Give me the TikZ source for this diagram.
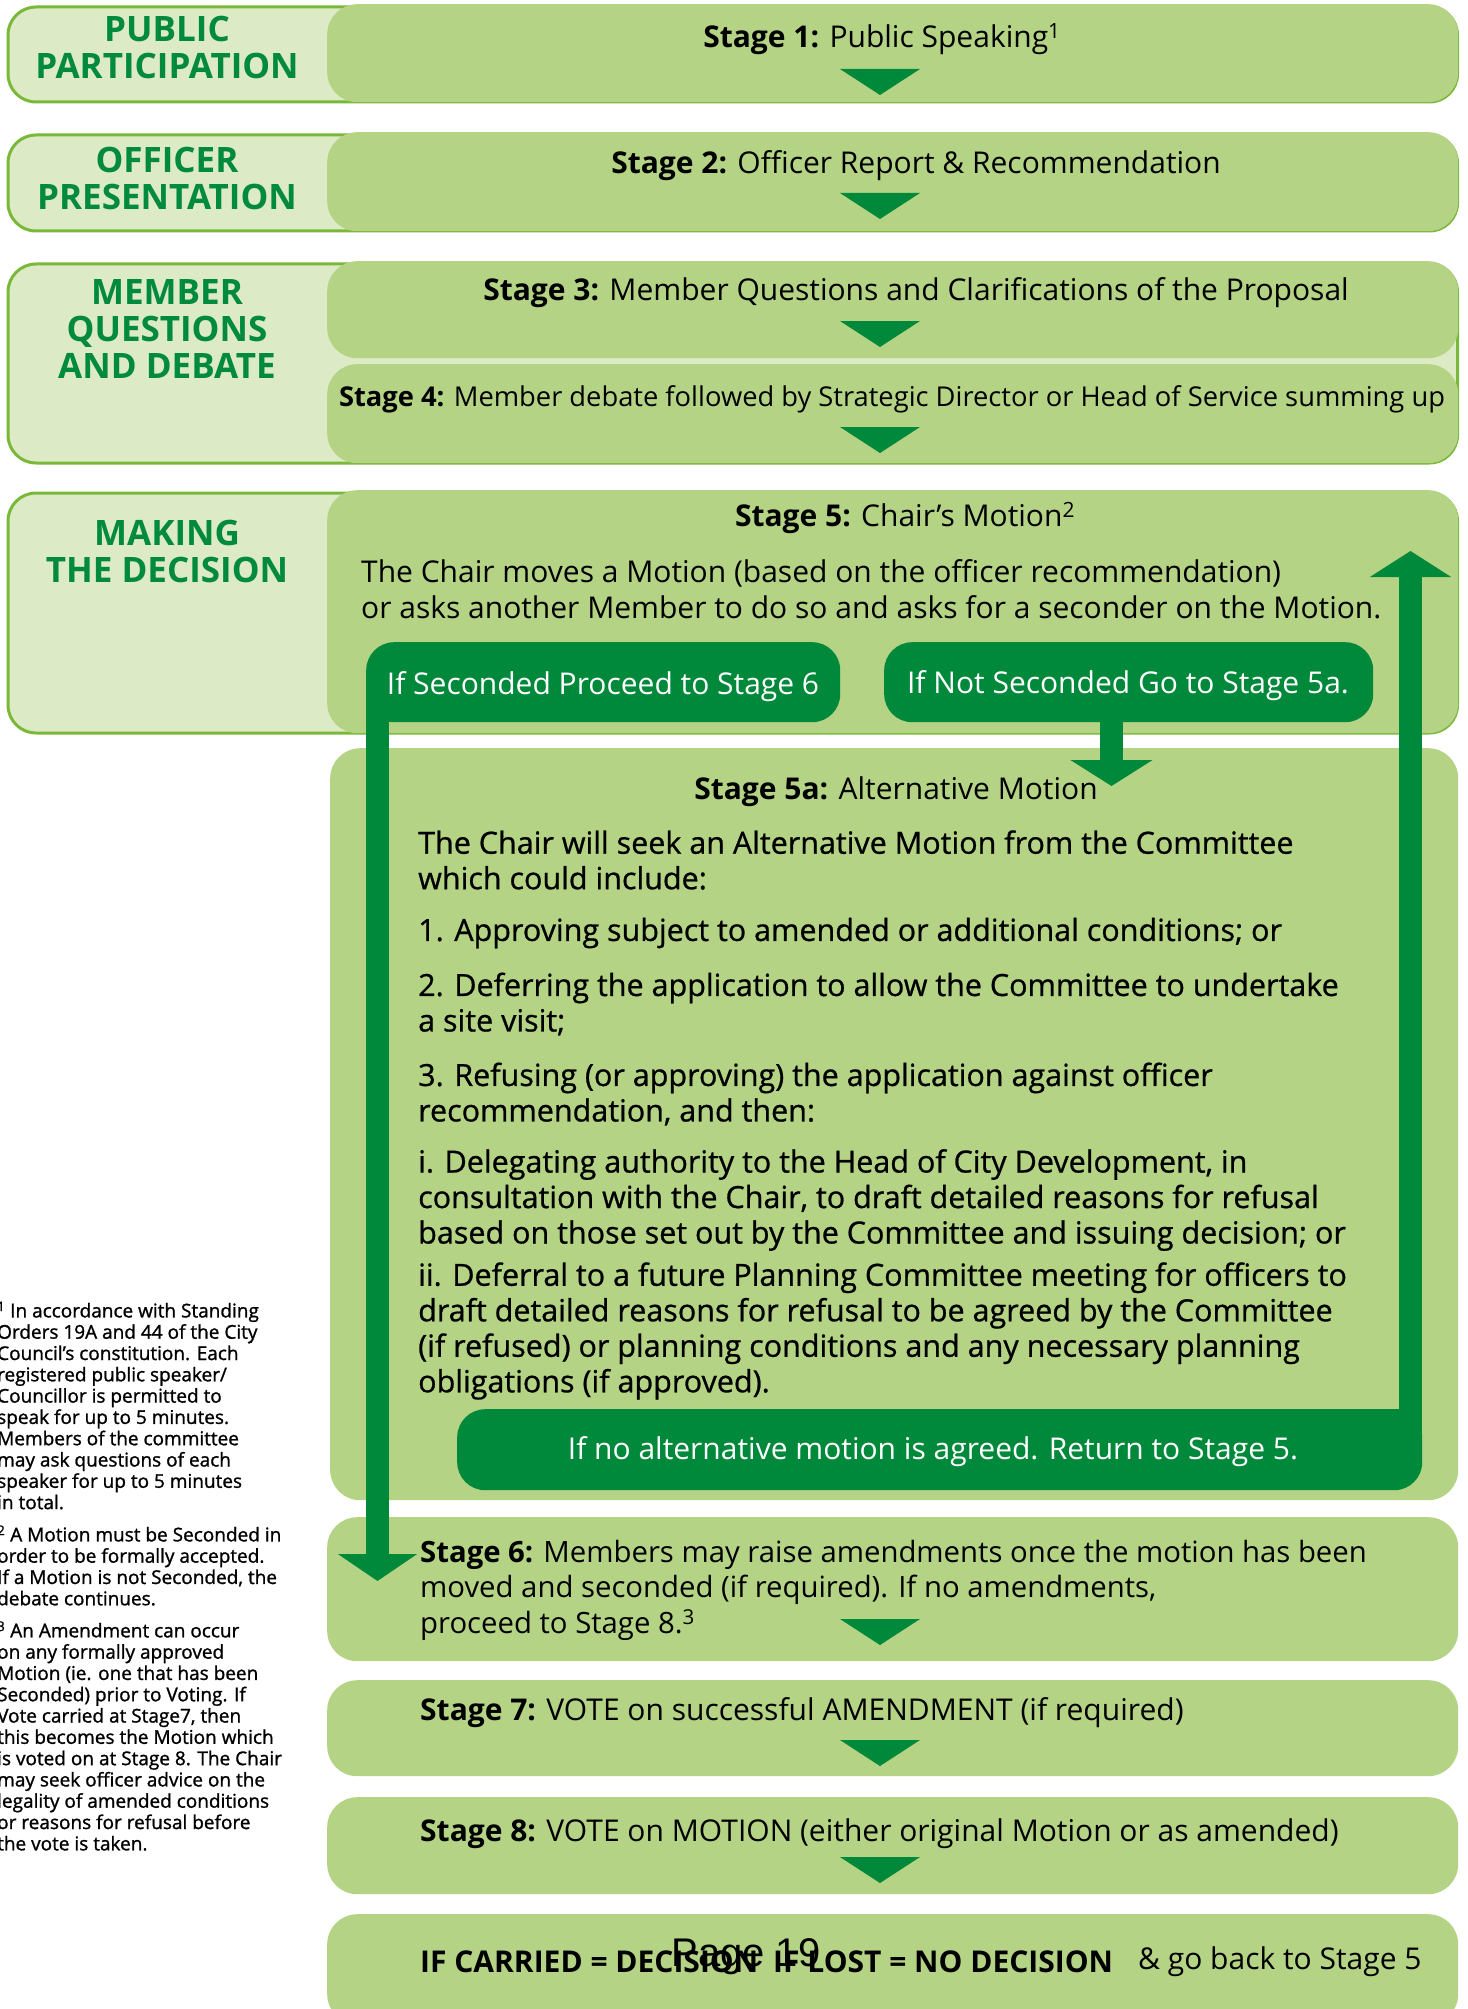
\documentclass[tikz,border=0pt]{standalone}
\usepackage{fontspec}
\setmainfont{Open Sans}
\newfontfamily\pagefont{Liberation Sans}
\newfontfamily\fnfont[FakeBold=1.2]{Open Sans}
\newfontfamily\semib[FakeBold=0.8]{Open Sans}
\usetikzlibrary{arrows.meta}
\definecolor{lightbg}{HTML}{DDEAC6}
\definecolor{lightbd}{HTML}{7AB83A}
\definecolor{boxg}{HTML}{B4D384}
\definecolor{dkg}{HTML}{00883B}
\definecolor{hdg}{HTML}{008A3E}
\newcommand\stg{\fontsize{30}{35.5}\selectfont}
\newcommand\stgs{\fontsize{27.3}{35.5}\selectfont}
\newcommand\stgm{\fontsize{29.3}{35.5}\selectfont}
\newcommand\parf{\semib\fontsize{30.5}{35.5}\selectfont}
\newcommand\hdr{\fontsize{35}{37}\selectfont\bfseries}
\newcommand\fns{\fnfont\fontsize{19}{21.3}\selectfont}
\newcommand\dtri[2]{\fill[dkg] (#1-40,#2) -- (#1+40,#2) -- (#1,#2+26) -- cycle;}
\begin{document}
\begin{tikzpicture}[x=1pt,y=-1pt,
  lbox/.style={fill=lightbg, draw=lightbd, line width=3pt, rounded corners=28pt, anchor=north west, inner sep=0pt},
  gbox/.style={fill=boxg, rounded corners=30pt, anchor=north west, inner sep=0pt},
  dbox/.style={fill=dkg, rounded corners=28pt, anchor=north west, inner sep=0pt},
  stxt/.style={inner sep=0pt, font=\stg, align=left},
  ptxt/.style={inner sep=0pt, font=\parf, align=left, anchor=west},
  wtxt/.style={inner sep=0pt, font=\stg, text=white},
  htxt/.style={inner sep=0pt, font=\hdr, text=hdg, align=center},
  ftxt/.style={inner sep=0pt, font=\fns, align=left, anchor=west},
  arr/.style={draw=dkg, line width=23pt}
]
\useasboundingbox (0,0) rectangle (1467,2009);
\clip (0,0) rectangle (1467,2009);
% light label boxes
\node[lbox, minimum width=1449.5, minimum height=95] (l1) at (6.5,5.5) {};
\node[lbox, minimum width=1449.5, minimum height=96] (l2) at (6.5,133.5) {};
\node[lbox, minimum width=1449.5, minimum height=199] (l3) at (6.5,262.5) {};
\node[lbox, minimum width=1449.5, minimum height=240] (l4) at (6.5,491.5) {};
% green stage boxes
\node[gbox, minimum width=1131, minimum height=98] (s1) at (327,4) {};
\node[gbox, minimum width=1131, minimum height=99] (s2) at (327,132) {};
\node[gbox, minimum width=1131, minimum height=97] (s3) at (327,261) {};
\node[gbox, minimum width=1131, minimum height=99] (s4) at (327,364) {};
\node[gbox, minimum width=1131, minimum height=243] (s5) at (327,490) {};
\node[gbox, minimum width=1128, minimum height=752] (s5a) at (330,748) {};
\node[gbox, minimum width=1131, minimum height=144] (s6) at (327,1517) {};
\node[gbox, minimum width=1131, minimum height=96] (s7) at (327,1680) {};
\node[gbox, minimum width=1131, minimum height=97] (s8) at (327,1797) {};
\node[gbox, minimum width=1131, minimum height=110] (s9) at (327,1914) {};
% small triangles
\dtri{880}{69}
\dtri{880}{193}
\dtri{880}{321}
\dtri{880}{427}
\dtri{880}{1619}
\dtri{880}{1740}
\dtri{880}{1857}
% dark boxes
\node[dbox, minimum width=474, minimum height=80] (A) at (366,642) {};
\fill[dkg] (A.south west) rectangle ++(30,-30);
\node[dbox, minimum width=489, minimum height=80] (B) at (884,642) {};
\node[dbox, minimum width=965, minimum height=81] (C) at (457,1409) {};
\fill[dkg] (C.north east) rectangle ++(-30,30);
% connectors
\coordinate (a6) at (377.5,1581);
\coordinate (b5a) at (1111.5,786);
\coordinate (r5) at (1410.5,551);
\draw[arr, -{Triangle[width=78pt,length=27pt]}] (a6 |- A.south) ++(0,-20) -- (a6);
\draw[arr, -{Triangle[width=81pt,length=26pt]}] (b5a |- B.south) ++(0,-10) -- (b5a);
\draw[arr, -{Triangle[width=80pt,length=26pt]}] (r5 |- C.north) ++(0,20) -- (r5);
% headers
\node[htxt] (h1) at (167,48) {PUBLIC\\PARTICIPATION};
\node[htxt] (h2) at (167,178) {OFFICER\\PRESENTATION};
\node[htxt] (h3) at (167,329) {MEMBER\\QUESTIONS\\AND DEBATE};
\node[htxt] (h4) at (167,551) {MAKING\\THE DECISION};
% stage texts
\node[stxt] (t1) at (882,39) {\textbf{Stage 1:} Public Speaking\textsuperscript{1}};
\node[stxt] (t2) at (916,166) {\textbf{Stage 2:} Officer Report \& Recommendation};
\node[stxt] (t3) at (916,293) {\textbf{Stage 3:} Member Questions and Clarifications of the Proposal};
\node[stxt, font=\stgs] (t4) at (892,399) {\textbf{Stage 4:} Member debate followed by Strategic Director or Head of Service summing up};
\node[stxt] (t5) at (905,518) {\textbf{Stage 5:} Chair’s Motion\textsuperscript{2}};
\node[stxt, anchor=west] (t5b) at (361,589) {The Chair moves a Motion (based on the officer recommendation)\\or asks another Member to do so and asks for a seconder on the Motion.};
\node[wtxt] (wa) at (603,687) {If Seconded Proceed to Stage 6};
\node[wtxt] (wb) at (1128,686) {If Not Seconded Go to Stage 5a.};
\node[stxt] (t5a) at (896,792) {\textbf{Stage 5a:} Alternative Motion};
\node[ptxt] (p1) at (418,860) {The Chair will seek an Alternative Motion from the Committee\\which could include:};
\node[ptxt] (p2) at (418,933) {1. Approving subject to amended or additional conditions; or};
\node[ptxt] (p3) at (418,1004) {2. Deferring the application to allow the Committee to undertake\\a site visit;};
\node[ptxt] (p4) at (418,1094) {3. Refusing (or approving) the application against officer\\recommendation, and then:};
\node[ptxt] (p5) at (418,1200) {i. Delegating authority to the Head of City Development, in\\consultation with the Chair, to draft detailed reasons for refusal\\based on those set out by the Committee and issuing decision; or};
\node[ptxt] (p6) at (418,1331) {ii. Deferral to a future Planning Committee meeting for officers to\\draft detailed reasons for refusal to be agreed by the Committee\\(if refused) or planning conditions and any necessary planning\\obligations (if approved).};
\node[wtxt] (wc) at (933,1452) {If no alternative motion is agreed. Return to Stage 5.};
\node[stxt, font=\stgm, anchor=west] (t6) at (420,1590) {\textbf{Stage 6:} Members may raise amendments once the motion has been\\moved and seconded (if required). If no amendments,\\proceed to Stage 8.\textsuperscript{3}};
\node[stxt, anchor=west] (t7) at (420,1713) {\textbf{Stage 7:} VOTE on successful AMENDMENT (if required)};
\node[stxt, anchor=west] (t8) at (420,1834) {\textbf{Stage 8:} VOTE on MOTION (either original Motion or as amended)};
\node[stxt, anchor=west] (t9) at (420,1962) {\textbf{IF CARRIED = DECISION\hspace{15pt}IF LOST = NO DECISION}};
\node[stxt, anchor=west] (t9b) at (1138,1962) {\& go back to Stage 5};
\node[inner sep=0pt, font=\pagefont\fontsize{40}{44}\selectfont] (pg) at (746,1957) {Page 19};
% footnotes
\node[ftxt] (f1) at (-3,1405.5) {\textsuperscript{1} In accordance with Standing\\Orders 19A and 44 of the City\\Council’s constitution. Each\\registered public speaker/\\Councillor is permitted to\\speak for up to 5 minutes.\\Members of the committee\\may ask questions of each\\speaker for up to 5 minutes\\in total.};
\node[ftxt] (f2) at (-3,1565.5) {\textsuperscript{2} A Motion must be Seconded in\\order to be formally accepted.\\If a Motion is not Seconded, the\\debate continues.};
\node[ftxt] (f3) at (-3,1736) {\textsuperscript{3} An Amendment can occur\\on any formally approved\\Motion (ie. one that has been\\Seconded) prior to Voting. If\\Vote carried at Stage7, then\\this becomes the Motion which\\is voted on at Stage 8. The Chair\\may seek officer advice on the\\legality of amended conditions\\or reasons for refusal before\\the vote is taken.};
\end{tikzpicture}
\end{document}
